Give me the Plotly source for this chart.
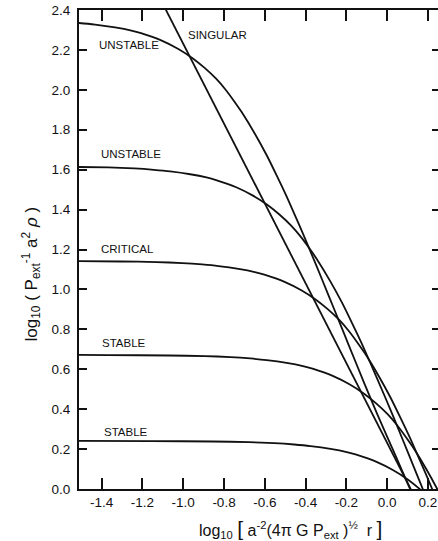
import plotly.graph_objects as go

# ---- data ----
x_tick_vals = [-1.4, -1.2, -1.0, -0.8, -0.6, -0.4, -0.2, 0.0, 0.2]
x_tick_text = ["-1.4", "-1.2", "-1.0", "-0.8", "-0.6", "-0.4", "-0.2", "0.0", "0.2"]
y_tick_vals = [0.0, 0.2, 0.4, 0.6, 0.8, 1.0, 1.2, 1.4, 1.6, 1.8, 2.0, 2.2, 2.4]
y_tick_text = ["0.0", "0.2", "0.4", "0.6", "0.8", "1.0", "1.2", "1.4", "1.6", "1.8", "2.0", "2.2", "2.4"]

# top "UNSTABLE" curve
unstable_hi_x = [-1.609, -1.512, -1.432, -1.334, -1.254, -1.207, -1.108, -1.026, -0.956, -0.895,
                 -0.840, -0.794, -0.753, -0.715, -0.648, -0.590, -0.539, -0.493, -0.452, -0.414,
                 -0.347, -0.289, -0.238, -0.192, -0.113, -0.046, 0.039, 0.110, 0.151]
unstable_hi_y = [2.342, 2.335, 2.327, 2.313, 2.297, 2.284, 2.248, 2.206, 2.160, 2.110,
                 2.057, 2.003, 1.947, 1.891, 1.779, 1.671, 1.565, 1.466, 1.371, 1.282,
                 1.119, 0.974, 0.846, 0.730, 0.532, 0.369, 0.172, 0.006, -0.086]

# second "UNSTABLE" curve
unstable_lo_x = [-1.543, -1.367, -1.241, -1.144, -1.064, -0.966, -0.886, -0.839, -0.740, -0.658,
                 -0.588, -0.527, -0.472, -0.426, -0.385, -0.347, -0.280, -0.222, -0.171, -0.125,
                 -0.084, -0.046, 0.022, 0.080, 0.131, 0.177, 0.256]
unstable_lo_y = [1.614, 1.611, 1.606, 1.599, 1.591, 1.577, 1.561, 1.548, 1.512, 1.470,
                 1.424, 1.374, 1.321, 1.267, 1.211, 1.155, 1.043, 0.935, 0.829, 0.730,
                 0.635, 0.546, 0.383, 0.238, 0.110, -0.006, -0.204]

# "CRITICAL" curve
critical_x = [-1.607, -1.306, -1.130, -1.004, -0.907, -0.827, -0.729, -0.649, -0.602, -0.503,
              -0.421, -0.351, -0.290, -0.235, -0.189, -0.148, -0.110, -0.043, 0.015, 0.066,
              0.112, 0.153, 0.191, 0.258]
critical_y = [1.142, 1.140, 1.137, 1.132, 1.125, 1.117, 1.103, 1.087, 1.074, 1.038,
              0.996, 0.950, 0.900, 0.847, 0.793, 0.737, 0.681, 0.569, 0.461, 0.355,
              0.256, 0.161, 0.072, -0.091]

# upper "STABLE" curve
stable_hi_x = [-1.571, -1.371, -1.070, -0.894, -0.768, -0.671, -0.591, -0.493, -0.413, -0.366,
               -0.267, -0.185, -0.115, -0.054, 0.001, 0.047, 0.088, 0.126, 0.193, 0.251, 0.302]
stable_hi_y = [0.672, 0.671, 0.669, 0.666, 0.661, 0.654, 0.646, 0.632, 0.616, 0.603,
               0.567, 0.525, 0.479, 0.429, 0.376, 0.322, 0.266, 0.210, 0.098, -0.011, -0.116]

# lower "STABLE" curve
stable_lo_x = [-1.556, -1.156, -0.855, -0.679, -0.553, -0.456, -0.376, -0.278, -0.198, -0.151,
               -0.052, 0.030, 0.101, 0.162, 0.217]
stable_lo_y = [0.241, 0.240, 0.238, 0.235, 0.230, 0.223, 0.215, 0.201, 0.185, 0.172,
               0.136, 0.094, 0.048, -0.002, -0.055]

# "SINGULAR" straight line
singular_x = [-1.12, 0.13]
singular_y = [2.471, -0.029]

curve_names = ["UNSTABLE", "UNSTABLE", "CRITICAL", "STABLE", "STABLE", "SINGULAR"]

# ---- figure ----
FONT = "Liberation Sans, Arial, sans-serif"
INK = "#111111"
X_RANGE = [-1.511, 0.2591]
Y_RANGE = [0.0, 2.4]

fig = go.Figure()

series = [
    (unstable_hi_x, unstable_hi_y),
    (unstable_lo_x, unstable_lo_y),
    (critical_x, critical_y),
    (stable_hi_x, stable_hi_y),
    (stable_lo_x, stable_lo_y),
    (singular_x, singular_y),
]
for (xs, ys), name in zip(series, curve_names):
    fig.add_trace(go.Scatter(
        x=xs, y=ys, mode="lines", name=name, showlegend=False,
        line=dict(color=INK, width=1.8, shape="spline", smoothing=0.6),
        hoverinfo="skip",
    ))

# curve labels (data coordinates of their left/middle anchor)
label_positions = [
    ("UNSTABLE", -1.423, 2.224),
    ("SINGULAR", -0.987, 2.275),
    ("UNSTABLE", -1.413, 1.678),
    ("CRITICAL", -1.412, 1.201),
    ("STABLE", -1.406, 0.733),
    ("STABLE", -1.400, 0.287),
]
for txt, lx, ly in label_positions:
    fig.add_annotation(x=lx, y=ly, xref="x", yref="y", text=txt, showarrow=False,
                       xanchor="left", yanchor="middle",
                       font=dict(family=FONT, size=11.5, color=INK))

# axis titles (paper coords)
fig.add_annotation(
    x=0.587, y=-0.084, xref="paper", yref="paper", showarrow=False,
    xanchor="center", yanchor="middle",
    text="log<sub>10</sub> <span style='font-size:21px'>[</span> a<sup>-2</sup>(4π G P<sub>ext</sub> )<sup>½</sup>  r <span style='font-size:21px'>]</span>",
    font=dict(family=FONT, size=16, color=INK),
)
fig.add_annotation(
    x=-0.133, y=0.45, xref="paper", yref="paper", showarrow=False,
    xanchor="center", yanchor="middle", textangle=-90,
    text="log<sub>10</sub> ( P<sub>ext</sub><sup>-1</sup> a<sup>2</sup> <i>ρ</i> )",
    font=dict(family=FONT, size=17, color=INK),
)

# Frame: bottom/left lines with mirrored top/right, inward ticks on all sides.
# The frame's right edge lies just past the 438px window (as in the cropped reference).
fig.update_layout(
    width=440, height=541,
    margin=dict(l=79, r=0, t=10, b=52, autoexpand=False),
    paper_bgcolor="white", plot_bgcolor="white",
    showlegend=False,
    xaxis=dict(
        range=X_RANGE, tickvals=x_tick_vals, ticktext=x_tick_text,
        ticks="inside", ticklen=11, tickwidth=2, tickcolor=INK,
        showline=True, linewidth=2, linecolor=INK, mirror="ticks",
        showgrid=False, zeroline=False, automargin=False, ticklabeloverflow="allow",
        tickfont=dict(family=FONT, size=13.5, color=INK),
    ),
    yaxis=dict(
        range=Y_RANGE, tickvals=y_tick_vals, ticktext=y_tick_text,
        ticks="inside", ticklen=8, tickwidth=2, tickcolor=INK,
        showline=True, linewidth=2, linecolor=INK, mirror="ticks",
        showgrid=False, zeroline=False, ticklabelstandoff=4, automargin=False,
        ticklabeloverflow="allow",
        tickfont=dict(family=FONT, size=13.5, color=INK),
    ),
)

fig.write_html(
    "out.html",
    config={"displayModeBar": False},
    post_script="document.body.style.margin='0px';document.body.style.overflow='hidden';",
)
